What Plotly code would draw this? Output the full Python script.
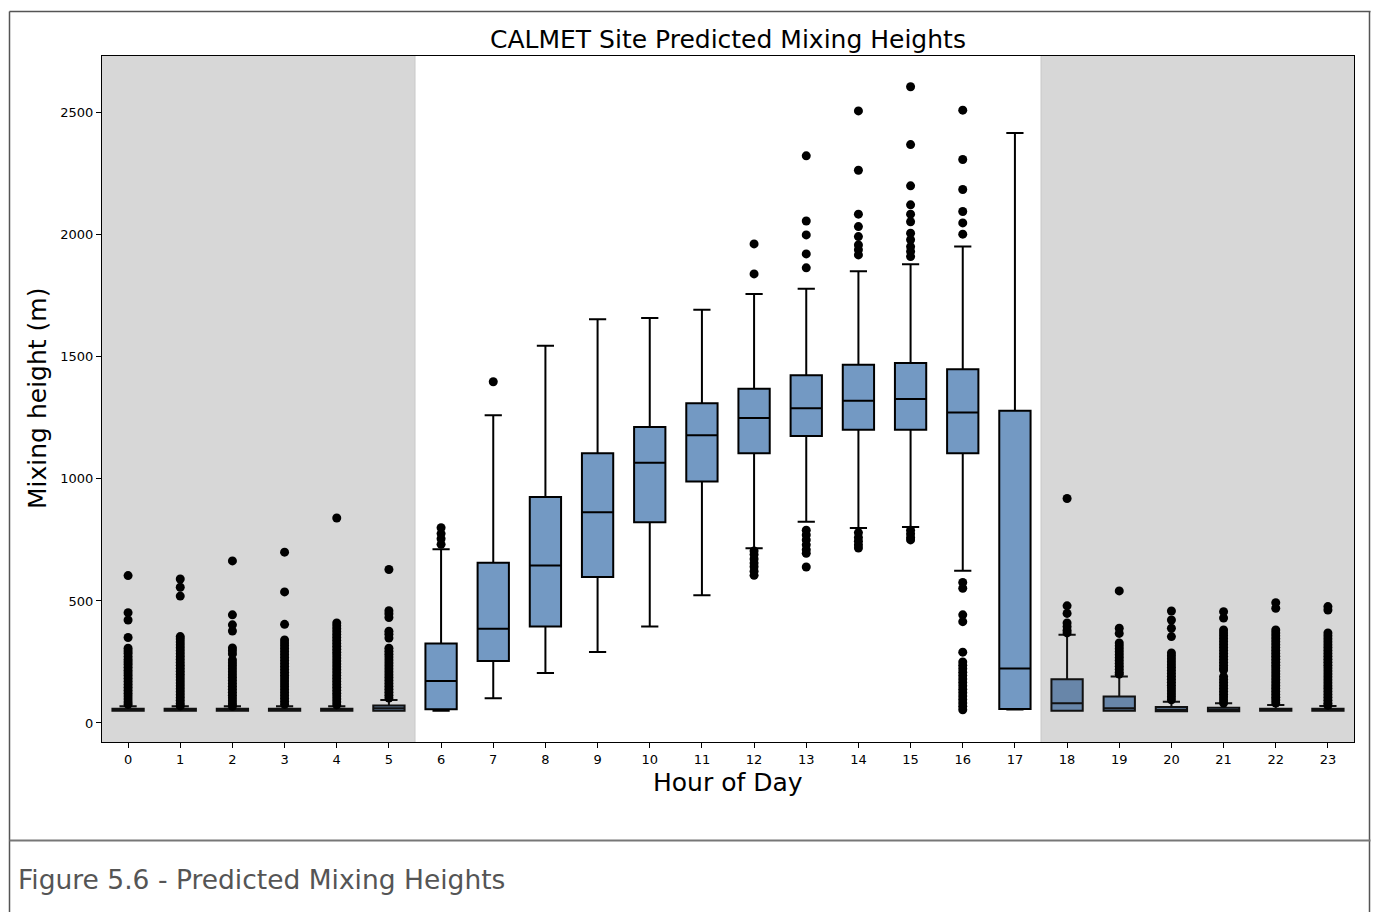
import plotly.graph_objects as go

hours = list(range(24))
tick_labels = [str(h) for h in hours]

q1 =     [50, 50, 50, 50, 50, 50, 56, 254, 395, 598, 822, 989, 1105, 1176, 1201, 1201, 1105, 57, 50, 50, 48, 48, 50, 50]
median = [52, 52, 52, 52, 52, 60, 172, 386, 645, 863, 1066, 1179, 1250, 1290, 1320, 1328, 1272, 223, 81, 60, 54, 53, 52, 52]
q3 =     [58, 58, 58, 58, 58, 72, 326, 656, 926, 1105, 1213, 1310, 1369, 1425, 1468, 1475, 1449, 1279, 179, 108, 65, 62, 58, 58]
lower =  [50, 50, 50, 50, 50, 50, 50, 101, 205, 291, 395, 523, 716, 824, 799, 803, 624, 55, 50, 50, 48, 48, 50, 50]
upper =  [68, 68, 68, 68, 68, 94, 712, 1261, 1546, 1654, 1659, 1693, 1758, 1779, 1851, 1880, 1952, 2417, 361, 190, 87, 81, 74, 70]

outliers = [
    [604, 452, 422, 350, 306, 295, 285, 272, 260, 250, 240, 228, 216, 205, 194, 182, 170, 158, 146, 134, 122, 110, 98, 86, 76],
    [590, 556, 520, 354, 344, 332, 320, 308, 296, 284, 272, 260, 248, 236, 224, 212, 200, 188, 176, 164, 152, 140, 128, 116, 104, 92, 80, 70],
    [664, 443, 402, 377, 307, 296, 283, 258, 246, 234, 222, 210, 198, 186, 174, 162, 150, 138, 126, 114, 102, 90, 78, 68],
    [700, 537, 404, 340, 328, 316, 304, 292, 280, 268, 256, 244, 232, 220, 208, 196, 184, 172, 160, 148, 136, 124, 112, 100, 88, 76],
    [840, 410, 398, 386, 374, 362, 350, 338, 326, 314, 302, 290, 278, 266, 254, 242, 230, 218, 206, 194, 182, 170, 158, 146, 134, 122, 110, 98, 86, 74],
    [629, 460, 448, 432, 376, 364, 348, 306, 294, 282, 270, 258, 246, 234, 222, 210, 198, 186, 174, 162, 150, 138, 126, 114, 102],
    [800, 776, 755, 732],
    [1398],
    [],
    [],
    [],
    [],
    [1963, 1840, 705, 690, 672, 655, 640, 622, 605],
    [2324, 2057, 2000, 1922, 1865, 790, 770, 750, 730, 710, 695, 639],
    [2508, 2265, 2085, 2034, 1993, 1959, 1939, 1918, 780, 760, 745, 730, 717],
    [2607, 2370, 2201, 2123, 2085, 2054, 2007, 1980, 1952, 1932, 1911, 790, 775, 760, 750],
    [2511, 2309, 2186, 2096, 2049, 2003, 576, 552, 443, 415, 290, 250, 236, 222, 208, 194, 180, 166, 152, 138, 124, 110, 96, 82, 68, 54],
    [],
    [920, 480, 449, 410, 395, 380, 369],
    [541, 388, 367, 328, 316, 304, 292, 280, 268, 256, 244, 232, 220, 208, 200],
    [459, 422, 388, 354, 287, 275, 263, 251, 239, 227, 215, 203, 191, 179, 167, 155, 143, 131, 119, 107, 95],
    [456, 430, 381, 369, 357, 345, 333, 321, 309, 297, 285, 273, 261, 249, 237, 225, 217, 190, 178, 166, 154, 142, 130, 118, 106, 94, 82],
    [493, 470, 381, 369, 357, 345, 333, 321, 309, 297, 285, 273, 261, 249, 237, 225, 213, 201, 189, 177, 165, 153, 141, 129, 117, 105, 94, 82],
    [477, 463, 369, 357, 345, 333, 321, 309, 297, 285, 273, 261, 249, 237, 225, 213, 201, 189, 177, 165, 153, 141, 129, 117, 105, 93, 81, 72],
]

night_spans = [(-0.5, 5.5), (17.5, 23.5)]

title_text = "CALMET Site Predicted Mixing Heights"
x_title = "Hour of Day"
y_title = "Mixing height (m)"
caption = "Figure 5.6 - Predicted Mixing Heights"

FONT = "DejaVu Sans"
DAY_FILL = "#7399C3"
NIGHT_FILL = "#6886A9"

def is_night(h):
    return any(a < h < b for a, b in night_spans)

fig = go.Figure()

for night, fill in [(False, DAY_FILL), (True, NIGHT_FILL)]:
    idx = [i for i, h in enumerate(hours) if is_night(h) == night]
    fig.add_trace(go.Box(
        x=[hours[i] for i in idx],
        q1=[q1[i] for i in idx], median=[median[i] for i in idx], q3=[q3[i] for i in idx],
        lowerfence=[lower[i] for i in idx], upperfence=[upper[i] for i in idx],
        width=0.6, whiskerwidth=0.55,
        fillcolor=fill, line=dict(color="black" if not night else "#111111", width=2),
        boxpoints=False, showlegend=False,
    ))

ox, oy = [], []
for h, vals in zip(hours, outliers):
    for v in vals:
        ox.append(h)
        oy.append(v)

fig.add_trace(go.Scatter(
    x=ox, y=oy, mode="markers",
    marker=dict(color="black", size=9, line=dict(width=0)),
    showlegend=False,
))

W, H = 1373, 912
L, R, T, B = 102, 1373 - 1354, 56, 912 - 742
pw, ph = W - L - R, H - T - B

def px(x):
    return (x - L) / pw

def py(y):
    return (H - B - y) / ph

shapes = []
for a, b in night_spans:
    shapes.append(dict(type="rect", xref="x", yref="paper", x0=a, x1=b, y0=0, y1=1,
                       fillcolor="#D7D7D7", line=dict(width=0), layer="below"))
shapes += [
    dict(type="line", xref="x", yref="paper", x0=5.5, x1=5.5, y0=0, y1=1,
         line=dict(color="#C8C8C8", width=1), layer="below"),
    dict(type="line", xref="x", yref="paper", x0=17.5, x1=17.5, y0=0, y1=1,
         line=dict(color="#C8C8C8", width=1), layer="below"),
    # outer frame
    dict(type="line", xref="paper", yref="paper", x0=px(9.5), x1=px(1370.5), y0=py(11.5), y1=py(11.5),
         line=dict(color="#555555", width=1.5)),
    dict(type="line", xref="paper", yref="paper", x0=px(9.5), x1=px(9.5), y0=py(11.5), y1=py(930),
         line=dict(color="#555555", width=1.5)),
    dict(type="line", xref="paper", yref="paper", x0=px(1369.5), x1=px(1369.5), y0=py(11.5), y1=py(930),
         line=dict(color="#555555", width=1.5)),
    dict(type="line", xref="paper", yref="paper", x0=px(9.5), x1=px(1370.5), y0=py(840.5), y1=py(840.5),
         line=dict(color="#777777", width=2)),
]

annotations = [
    dict(text=title_text, x=0.5, y=py(39), xref="paper", yref="paper", showarrow=False,
         xanchor="center", yanchor="middle", font=dict(family=FONT, size=25, color="black")),
    dict(text=x_title, x=0.5, y=py(782), xref="paper", yref="paper", showarrow=False,
         xanchor="center", yanchor="middle", font=dict(family=FONT, size=25, color="black")),
    dict(text=y_title, x=px(37), y=py(399), xref="paper", yref="paper", showarrow=False,
         xanchor="center", yanchor="middle", textangle=-90, font=dict(family=FONT, size=25, color="black")),
    dict(text=caption, x=px(16), y=py(880), xref="paper", yref="paper", showarrow=False,
         xanchor="left", yanchor="middle", font=dict(family=FONT, size=26.5, color="#555555")),
]

fig.update_layout(
    width=W, height=H,
    margin=dict(l=L, r=R, t=T, b=B),
    paper_bgcolor="white", plot_bgcolor="white",
    font=dict(family=FONT, color="black"),
    shapes=shapes, annotations=annotations,
    showlegend=False,
)

fig.update_xaxes(
    range=[-0.5, 23.5], tickmode="array", tickvals=hours, ticktext=tick_labels,
    showgrid=False, zeroline=False, showline=True, mirror=True, linecolor="black", linewidth=1,
    ticks="outside", ticklen=5, tickcolor="black", tickfont=dict(size=13, family=FONT, color="black"),
)
fig.update_yaxes(
    range=[-78, 2733], tickmode="array", tickvals=[0, 500, 1000, 1500, 2000, 2500],
    showgrid=False, zeroline=False, showline=True, mirror=True, linecolor="black", linewidth=1,
    ticks="outside", ticklen=5, tickcolor="black", tickfont=dict(size=13, family=FONT, color="black"),
)

fig.write_html(
    "out.html",
    config={"displayModeBar": False},
    post_script="document.body.style.margin='0px';document.body.style.overflow='hidden';",
)
